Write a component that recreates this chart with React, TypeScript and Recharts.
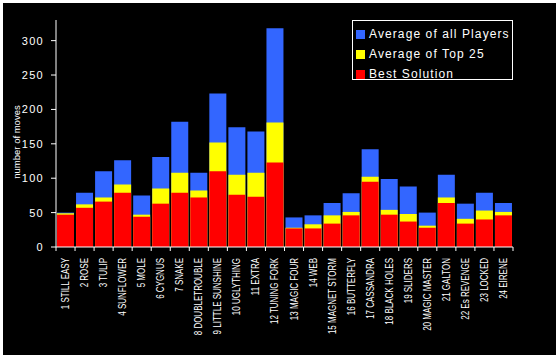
import { BarChart, Bar, XAxis, YAxis, Legend } from 'recharts';

const puzzles = [
  '1 STILL EASY', '2 ROSE', '3 TULIP', '4 SUNFLOWER', '5 MOLE', '6 CYGNUS',
  '7 SNAKE', '8 DOUBLETROUBLE', '9 LITTLE SUNSHINE', '10 UGLYTHING', '11 EXTRA',
  '12 TUNING FORK', '13 MAGIC FOUR', '14 WEB', '15 MAGNET STORM', '16 BUTTERFLY',
  '17 CASSANDRA', '18 BLACK HOLES', '19 SLIDERS', '20 MAGIC MASTER', '21 GALTON',
  '22 Es REVENGE', '23 LOCKED', '24 EIRENE',
];
const avgAll = [50, 79, 110, 126, 75, 131, 182, 108, 223, 174, 168, 318, 43, 46, 64, 78, 142, 99, 88, 50, 105, 63, 79, 64];
const avgTop25 = [49, 62, 72, 91, 47, 85, 108, 82, 152, 105, 108, 181, 28, 33, 46, 51, 102, 54, 48, 31, 72, 41, 53, 51];
const best = [47, 57, 66, 79, 44, 63, 79, 72, 110, 76, 73, 123, 27, 27, 34, 46, 95, 47, 37, 28, 64, 34, 40, 46];
const yTicks = [0, 50, 100, 150, 200, 250, 300];

const data = puzzles.map((name, i) => ({
  name,
  avgAll: avgAll[i],
  avgTop25: avgTop25[i],
  best: best[i],
}));

const series = [
  { key: 'avgAll', label: 'Average of all Players', color: '#3366ff' },
  { key: 'avgTop25', label: 'Average of Top 25', color: '#ffff00' },
  { key: 'best', label: 'Best Solution', color: '#ff0000' },
];

const FONT = '"Liberation Sans", Arial, sans-serif';
const W = 559;
const H = 359;
const PLOT_LEFT = 56;
const PLOT_RIGHT = 513;
const HALF_BAND = (PLOT_RIGHT - PLOT_LEFT) / puzzles.length / 2;

function PuzzleTick({ x, y, payload, index }: any) {
  const lineTop = y - 11;
  return (
    <g>
      <line x1={x - HALF_BAND} x2={x - HALF_BAND} y1={lineTop} y2={lineTop + 4} stroke="#fff" />
      {index === puzzles.length - 1 && (
        <line x1={x + HALF_BAND} x2={x + HALF_BAND} y1={lineTop} y2={lineTop + 4} stroke="#fff" />
      )}
      <g transform={`translate(${x},${y}) rotate(-90) scale(0.8,1)`}>
        <text x={0} y={0} dy="0.35em" textAnchor="end" fill="#fff" fontSize={10} fontFamily={FONT}>
          {payload.value}
        </text>
      </g>
    </g>
  );
}

function LegendBox() {
  return (
    <div
      style={{
        width: 159,
        height: 58,
        border: '1px solid #fff',
        background: '#000',
        fontFamily: FONT,
        fontSize: 12,
        letterSpacing: 1.1,
        color: '#fff',
        position: 'relative',
      }}
    >
      {series.map((s, i) => (
        <div
          key={s.key}
          style={{ position: 'absolute', left: 3, top: 7 + i * 20, height: 12, display: 'flex', alignItems: 'center' }}
        >
          <div style={{ width: 9, height: 9, background: s.color, marginRight: 4 }} />
          <span style={{ lineHeight: '12px', whiteSpace: 'nowrap' }}>{s.label}</span>
        </div>
      ))}
    </div>
  );
}

function YLabel({ viewBox }: any) {
  const cx = 20;
  const cy = (viewBox?.y ?? 20) + 122;
  return (
    <text
      x={cx}
      y={cy}
      transform={`rotate(-90 ${cx} ${cy})`}
      textAnchor="middle"
      fill="#fff"
      fontSize={9.5}
      fontFamily={FONT}
    >
      number of moves
    </text>
  );
}

export default function App() {
  return (
    <div style={{ position: 'absolute', left: 0, top: 0, width: W, height: H, background: '#fff' }}>
      <div style={{ position: 'absolute', left: 3, top: 3, width: 553, height: 352, background: '#000' }} />
      <div style={{ position: 'absolute', left: 0, top: 0 }}>
        <BarChart
          width={W}
          height={H}
          data={data}
          margin={{ top: 20, right: W - PLOT_RIGHT, bottom: 12, left: 16 }}
          barCategoryGap={1}
        >
          <XAxis
            dataKey="name"
            interval={0}
            height={100}
            tickSize={4}
            tickMargin={7}
            tickLine={false}
            axisLine={{ stroke: '#fff' }}
            tick={<PuzzleTick />}
          />
          <XAxis xAxisId="top" dataKey="name" orientation="top" height={0} tick={false} tickLine={false} axisLine={{ stroke: '#fff' }} />
          <XAxis xAxisId="mid" dataKey="name" hide />
          <YAxis
            domain={[0, 330]}
            ticks={yTicks}
            width={40}
            tickSize={5}
            tickMargin={7}
            axisLine={{ stroke: '#fff' }}
            tickLine={{ stroke: '#fff' }}
            tick={{ fill: '#fff', fontSize: 11, fontFamily: FONT, letterSpacing: 1.3 }}
            label={<YLabel />}
          />
          <YAxis yAxisId="right" orientation="right" domain={[0, 330]} width={0} tick={false} tickLine={false} axisLine={{ stroke: '#fff' }} />
          <Legend
            layout="horizontal"
            verticalAlign="middle"
            align="center"
            content={<LegendBox />}
            wrapperStyle={{ left: 352, top: 20, width: 161, height: 60 }}
          />
          <Bar dataKey="avgAll" name={series[0].label} fill={series[0].color} isAnimationActive={false} />
          <Bar dataKey="avgTop25" xAxisId="top" name={series[1].label} fill={series[1].color} isAnimationActive={false} />
          <Bar dataKey="best" xAxisId="mid" name={series[2].label} fill={series[2].color} isAnimationActive={false} />
        </BarChart>
      </div>
    </div>
  );
}
